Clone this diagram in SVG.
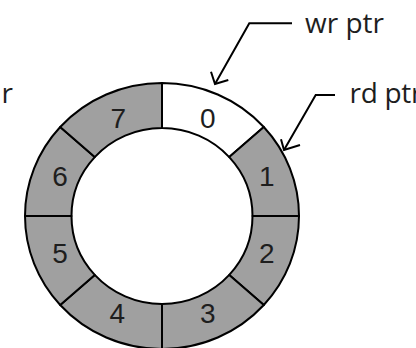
<svg xmlns="http://www.w3.org/2000/svg" width="416" height="348" viewBox="0 0 416 348">
  <style>
    .seg { fill: #a0a0a0; stroke: #000; stroke-width: 2; stroke-linejoin: round; }
    .seg.empty { fill: #fff; }
    .num { font-family: "Liberation Sans", Arial, sans-serif; font-size: 28px; fill: #1e1e1e; text-anchor: middle; }
    .lbl { font-family: "Open Sans", "Liberation Sans", sans-serif; font-size: 28px; fill: #1e1e1e; }
    .ptr { fill: none; stroke: #000; stroke-width: 2; stroke-linecap: butt; stroke-linejoin: miter; }
  </style>
  <rect width="416" height="348" fill="#fff"/>

  <!-- ring buffer slots: outer ellipse 137x133, inner 90.5x88, centre (162,216) -->
  <g id="slot0">
    <path class="seg empty" d="M162 83 A137 133 0 0 1 263.81 127.01 L229.25 157.12 A90.5 88 0 0 0 162 128 Z"/>
    <text class="num" x="207.7" y="127.5">0</text>
  </g>
  <g id="slot1">
    <path class="seg" d="M263.81 127.01 A137 133 0 0 1 299 216 L252.5 216 A90.5 88 0 0 0 229.25 157.12 Z"/>
    <text class="num" x="266.7" y="186">1</text>
  </g>
  <g id="slot2">
    <path class="seg" d="M299 216 A137 133 0 0 1 263.81 304.99 L229.25 274.88 A90.5 88 0 0 0 252.5 216 Z"/>
    <text class="num" x="266.7" y="263.3">2</text>
  </g>
  <g id="slot3">
    <path class="seg" d="M263.81 304.99 A137 133 0 0 1 162 349 L162 304 A90.5 88 0 0 0 229.25 274.88 Z"/>
    <text class="num" x="207.7" y="322.7">3</text>
  </g>
  <g id="slot4">
    <path class="seg" d="M162 349 A137 133 0 0 1 60.19 304.99 L94.75 274.88 A90.5 88 0 0 0 162 304 Z"/>
    <text class="num" x="117.3" y="322.7">4</text>
  </g>
  <g id="slot5">
    <path class="seg" d="M60.19 304.99 A137 133 0 0 1 25 216 L71.5 216 A90.5 88 0 0 0 94.75 274.88 Z"/>
    <text class="num" x="60" y="263.3">5</text>
  </g>
  <g id="slot6">
    <path class="seg" d="M25 216 A137 133 0 0 1 60.19 127.01 L94.75 157.12 A90.5 88 0 0 0 71.5 216 Z"/>
    <text class="num" x="60" y="186">6</text>
  </g>
  <g id="slot7">
    <path class="seg" d="M60.19 127.01 A137 133 0 0 1 162 83 L162 128 A90.5 88 0 0 0 94.75 157.12 Z"/>
    <text class="num" x="118.3" y="127.7">7</text>
  </g>

  <!-- pointer labels -->
  <g id="wr-ptr">
    <text class="lbl" x="305" y="33">wr ptr</text>
  </g>
  <g id="rd-ptr">
    <text class="lbl" x="349.5" y="103" letter-spacing="-0.3">rd ptr</text>
  </g>
  <g id="left-ptr">
    <text class="lbl" x="1.5" y="103">r</text>
  </g>

  <!-- pointer connectors with open arrowheads -->
  <g id="connectors">
    <path class="ptr" d="M292 23.3 H249.3 L215 84"/>
    <path class="ptr" d="M211 71.7 L215 84 L228.3 80"/>
    <path class="ptr" d="M335 95 H315.7 L284 150"/>
    <path class="ptr" d="M281 139.3 L284 150 L300 145"/>
  </g>
</svg>
